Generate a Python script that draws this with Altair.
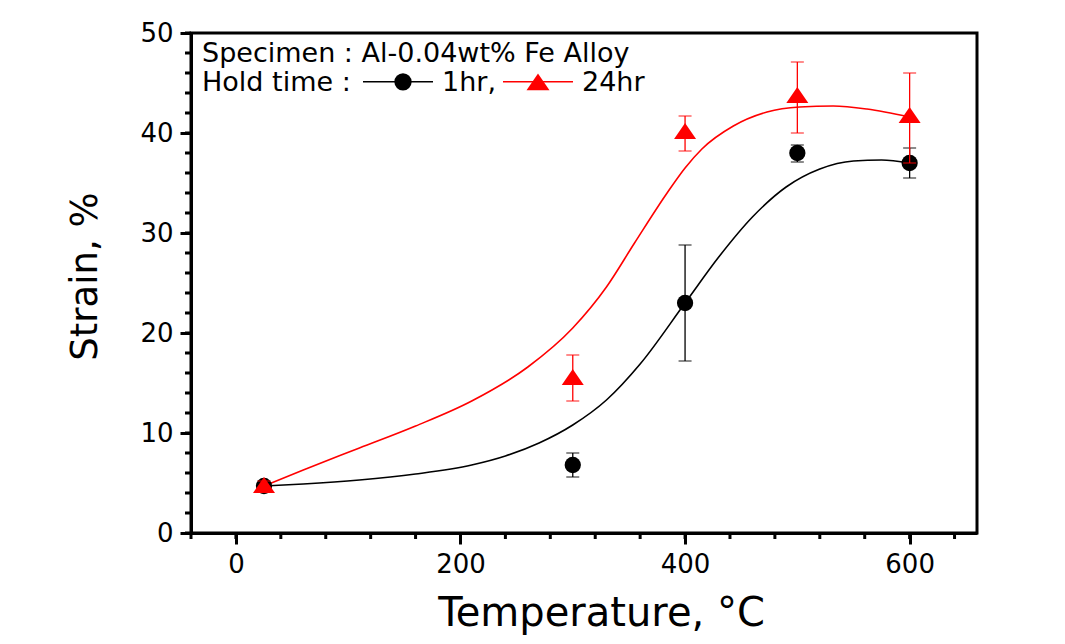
import altair as alt
import pandas as pd

# ---- data ----
temps = [25, 300, 400, 500, 600]
strain_1hr = [4.7, 6.8, 23.0, 38.0, 37.0]
err_lo_1hr = [4.4, 5.6, 17.2, 37.1, 35.5]
err_hi_1hr = [5.0, 8.0, 28.8, 38.8, 38.5]
strain_24hr = [4.8, 15.6, 40.2, 43.8, 41.8]
err_lo_24hr = [4.2, 13.2, 38.2, 40.0, 37.0]
err_hi_24hr = [5.2, 17.8, 41.7, 47.1, 46.0]

fit_x_1hr = [25, 60, 110, 160, 210, 240, 270, 300, 330, 360, 400, 430, 460, 490, 520, 550, 575, 600]
fit_y_1hr = [4.7, 4.9, 5.3, 5.9, 6.8, 7.7, 9.0, 10.8, 13.3, 16.9, 23.0, 27.6, 31.6, 34.6, 36.4, 37.2, 37.3, 37.0]
fit_x_24hr = [25, 60, 110, 160, 210, 260, 300, 330, 355, 384, 400, 415, 443, 473, 502, 532, 562, 600]
fit_y_24hr = [4.7, 6.3, 8.5, 10.7, 13.2, 16.6, 20.5, 24.6, 29.0, 34.0, 36.5, 38.4, 40.7, 42.1, 42.6, 42.7, 42.4, 41.6]

x_major = [0, 200, 400, 600]
x_minor = list(range(-40, 641, 40))
y_major = [0, 10, 20, 30, 40, 50]
y_minor = list(range(0, 51, 2))

FONT = "DejaVu Sans"
RED = "#ff0000"
BLACK = "#000000"

pts1 = pd.DataFrame({"T": temps, "S": strain_1hr, "lo": err_lo_1hr, "hi": err_hi_1hr})
pts24 = pd.DataFrame({"T": temps, "S": strain_24hr, "lo": err_lo_24hr, "hi": err_hi_24hr})
fit1 = pd.DataFrame({"T": fit_x_1hr, "S": fit_y_1hr})
fit24 = pd.DataFrame({"T": fit_x_24hr, "S": fit_y_24hr})
xminor_df = pd.DataFrame({"T": x_minor})
yminor_df = pd.DataFrame({"S": y_minor})

xscale = alt.Scale(domain=[-40, 660], nice=False, zero=False)
yscale = alt.Scale(domain=[0, 50], nice=False)

xaxis = alt.Axis(
    values=x_major, tickSize=11, tickWidth=3, tickColor=BLACK,
    domainWidth=3, domainColor=BLACK, grid=False,
    labelFont=FONT, labelFontSize=26, labelColor=BLACK, labelPadding=7,
    labelOverlap=False, labelFlush=False,
    title="Temperature, °C", titleFont=FONT, titleFontSize=40, titleFontWeight="normal",
    titleColor=BLACK, titleX=410, titleY=92, titleAlign="center", titleBaseline="alphabetic",
)
yaxis = alt.Axis(
    values=y_major, tickSize=11, tickWidth=3, tickColor=BLACK,
    domainWidth=3, domainColor=BLACK, grid=False,
    labelFont=FONT, labelFontSize=26, labelColor=BLACK, labelPadding=7,
    labelOverlap=False, labelFlush=False,
    title="Strain, %", titleFont=FONT, titleFontSize=37, titleFontWeight="normal",
    titleColor=BLACK, titleX=-95, titleY=243, titleAlign="center", titleBaseline="alphabetic",
    titleAngle=270,
)

X = alt.X("T:Q", scale=xscale, axis=xaxis)
Y = alt.Y("S:Q", scale=yscale, axis=yaxis)

tri_path = "M0,-0.73L1,0.73L-1,0.73Z"

line1 = alt.Chart(fit1).mark_line(color=BLACK, strokeWidth=1.6, interpolate="monotone").encode(x=X, y=Y)
line24 = alt.Chart(fit24).mark_line(color=RED, strokeWidth=1.6, interpolate="monotone").encode(x="T:Q", y="S:Q")

# minor ticks (outside the frame)
xminor = alt.Chart(xminor_df).mark_rule(color=BLACK, strokeWidth=3).encode(
    x="T:Q", y=alt.value(500), y2=alt.value(506))
yminor = alt.Chart(yminor_df).mark_rule(color=BLACK, strokeWidth=3).encode(
    y="S:Q", x=alt.value(0), x2=alt.value(-6))

err1 = alt.Chart(pts1).mark_rule(color=BLACK, strokeWidth=1.3).encode(x="T:Q", y="lo:Q", y2="hi:Q")
cap1a = alt.Chart(pts1).mark_tick(color=BLACK, orient="horizontal", size=13, thickness=1.3).encode(x="T:Q", y="lo:Q")
cap1b = alt.Chart(pts1).mark_tick(color=BLACK, orient="horizontal", size=13, thickness=1.3).encode(x="T:Q", y="hi:Q")
mk1 = alt.Chart(pts1).mark_point(shape="circle", filled=True, size=265, color=BLACK, opacity=1).encode(x="T:Q", y="S:Q")

err24 = alt.Chart(pts24).mark_rule(color=RED, strokeWidth=1.3).encode(x="T:Q", y="lo:Q", y2="hi:Q")
cap24a = alt.Chart(pts24).mark_tick(color=RED, orient="horizontal", size=13, thickness=1.3).encode(x="T:Q", y="lo:Q")
cap24b = alt.Chart(pts24).mark_tick(color=RED, orient="horizontal", size=13, thickness=1.3).encode(x="T:Q", y="hi:Q")
mk24 = alt.Chart(pts24).mark_point(shape=tri_path, filled=True, size=484, color=RED, opacity=1).encode(x="T:Q", y="S:Q")

# ---- in-plot legend / annotation ----
one = pd.DataFrame({"a": [0]})
txt_rows = pd.DataFrame({
    "label": ["Specimen : Al-0.04wt% Fe Alloy", "Hold time :", "1hr,", "24hr"],
    "px": [11, 11, 251, 391],
    "py": [28.5, 57.8, 57.8, 57.8],
})
ann_text = alt.Chart(txt_rows).mark_text(
    font=FONT, fontSize=27, color=BLACK, align="left", baseline="alphabetic"
).encode(x=alt.X("px:Q", scale=None), y=alt.Y("py:Q", scale=None), text="label:N")

leg_line1 = alt.Chart(one).mark_rule(color=BLACK, strokeWidth=1.6).encode(
    x=alt.value(172), x2=alt.value(242), y=alt.value(48.8))
leg_pt1 = alt.Chart(one).mark_point(shape="circle", filled=True, size=300, color=BLACK, opacity=1).encode(
    x=alt.value(212), y=alt.value(48.8))
leg_line24 = alt.Chart(one).mark_rule(color=RED, strokeWidth=1.6).encode(
    x=alt.value(312), x2=alt.value(382), y=alt.value(48.8))
leg_pt24 = alt.Chart(one).mark_point(shape=tri_path, filled=True, size=529, color=RED, opacity=1).encode(
    x=alt.value(347), y=alt.value(48.8))

chart = alt.layer(
    line1, line24, xminor, yminor, err1, cap1a, cap1b, mk1, err24, cap24a, cap24b, mk24,
    ann_text, leg_line1, leg_pt1, leg_line24, leg_pt24,
).properties(
    width=786, height=500,
    autosize=alt.AutoSizeParams(type="none"),
    padding={"left": 183, "top": 25, "right": 60, "bottom": 110},
    background="white",
).configure_view(stroke=BLACK, strokeWidth=3)

chart.save("out.html", embed_options={"renderer": "svg", "actions": False})
